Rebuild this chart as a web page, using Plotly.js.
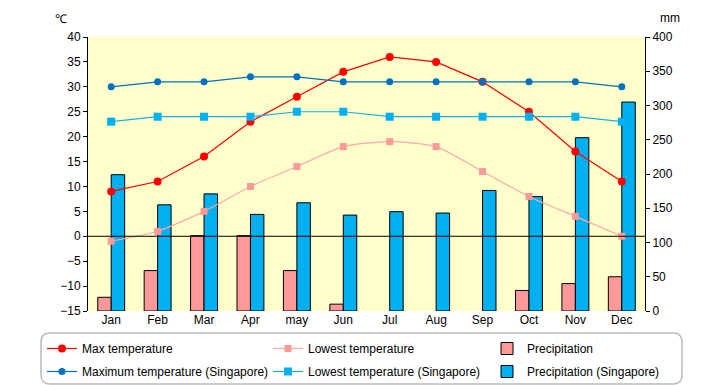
<!DOCTYPE html>
<html>
<head>
<meta charset="utf-8">
<script src="https://cdn.plot.ly/plotly-3.0.1.min.js"></script>
<style>html,body{margin:0;padding:0;background:#fff;}#chart{width:720px;height:385px;}</style>
</head>
<body>
<div id="chart"></div>
<script>
const months = ["Jan","Feb","Mar","Apr","may","Jun","Jul","Aug","Sep","Oct","Nov","Dec"];
const maxTemp = [9, 11, 16, 23, 28, 33, 36, 35, 31, 25, 17, 11];
const lowTemp = [-1, 1, 5, 10, 14, 18, 19, 18, 13, 8, 4, 0];
const precip = [20, 59, 110, 110, 59, 10, 0, 0, 0, 30, 40, 50];
const maxTempSG = [30, 31, 31, 32, 32, 31, 31, 31, 31, 31, 31, 30];
const lowTempSG = [23, 24, 24, 24, 25, 25, 24, 24, 24, 24, 24, 23];
const precipSG = [199, 155, 171, 141, 158, 140, 145, 143, 176, 167, 253, 305];

const FONT = "Liberation Sans, Arial, sans-serif";
const outline = vals => vals.map(v => v > 0 ? 1 : 0);

const traces = [
  {type:'bar', name:'Precipitation', x:months, y:precip, yaxis:'y', legend:'legend3', legendgroup:'p1',
   marker:{color:'#FF9999', line:{color:'#000', width:outline(precip)}}},
  {type:'bar', name:'Precipitation (Singapore)', x:months, y:precipSG, yaxis:'y', legend:'legend3', legendgroup:'p2',
   marker:{color:'#00B0F0', line:{color:'#000', width:outline(precipSG)}}},
  {type:'scatter', mode:'lines+markers', name:'Max temperature', x:months, y:maxTemp, yaxis:'y2', legend:'legend', legendgroup:'m1',
   line:{color:'#FF0000', width:1.2}, marker:{color:'#FF0000', size:8, symbol:'circle'}},
  {type:'scatter', mode:'lines+markers', name:'Maximum temperature (Singapore)', x:months, y:maxTempSG, yaxis:'y2', legend:'legend', legendgroup:'m2',
   line:{color:'#0070C0', width:1.2}, marker:{color:'#0070C0', size:7, symbol:'circle'}},
  {type:'scatter', mode:'lines+markers', name:'Lowest temperature', x:months, y:lowTemp, yaxis:'y2', legend:'legend2', legendgroup:'l1',
   line:{color:'#FFA8A8', width:1.2, shape:'spline', smoothing:0.6}, marker:{color:'#FF9999', size:7, symbol:'square'}},
  {type:'scatter', mode:'lines+markers', name:'Lowest temperature (Singapore)', x:months, y:lowTempSG, yaxis:'y2', legend:'legend2', legendgroup:'l2',
   line:{color:'#1AAFE8', width:1.2}, marker:{color:'#00B0F0', size:8, symbol:'square'}}
];

const L = 88, R = 645, T = 37, B = 311;
const pw = R - L, ph = B - T;
const px = v => (v - L) / pw;
const py = v => (B - v) / ph;

const legendCommon = {orientation:'v', xanchor:'left', yanchor:'top', tracegroupgap:4,
  font:{family:FONT, size:12, color:'#000'}, bgcolor:'rgba(0,0,0,0)', borderwidth:0, traceorder:'grouped'};

// rounded legend frame
const bx0 = px(41), bx1 = px(682), by0 = py(384), by1 = py(333);
const rx = 9 / pw, ry = 9 / ph;
const framePath = `M ${bx0+rx},${by1} L ${bx1-rx},${by1} Q ${bx1},${by1} ${bx1},${by1-ry} L ${bx1},${by0+ry} Q ${bx1},${by0} ${bx1-rx},${by0} L ${bx0+rx},${by0} Q ${bx0},${by0} ${bx0},${by0+ry} L ${bx0},${by1-ry} Q ${bx0},${by1} ${bx0+rx},${by1} Z`;

const layout = {
  width:720, height:385,
  margin:{l:L, r:720-R, t:T, b:385-B, pad:0, autoexpand:false},
  paper_bgcolor:'#FFFFFF', plot_bgcolor:'#FFFFCC',
  font:{family:FONT, size:12, color:'#000'},
  barmode:'group', bargap:0.42, bargroupgap:0,
  xaxis:{type:'category', range:[-0.5, 11.5], showgrid:false, zeroline:false, showline:false, ticks:'',
    tickfont:{family:FONT, size:12, color:'#000'}, fixedrange:true},
  yaxis:{side:'right', range:[0,400], dtick:50, tick0:0, showgrid:false, zeroline:false,
    showline:true, linecolor:'#000', linewidth:1, ticks:'outside', ticklen:4, tickcolor:'#000',
    tickfont:{family:FONT, size:12, color:'#000'}},
  yaxis2:{side:'left', overlaying:'y', range:[-15,40], dtick:5, tick0:0, showgrid:false, zeroline:false,
    showline:true, linecolor:'#000', linewidth:1, ticks:'outside', ticklen:4, tickcolor:'#000',
    tickfont:{family:FONT, size:12, color:'#000'}},
  legend:Object.assign({}, legendCommon, {x:px(42), y:py(334)}),
  legend2:Object.assign({}, legendCommon, {x:px(268), y:py(334)}),
  legend3:Object.assign({}, legendCommon, {x:px(487), y:py(334)}),
  shapes:[
    {type:'line', xref:'paper', x0:0, x1:1, yref:'y2', y0:0, y1:0, line:{color:'#000', width:1}, layer:'above'},
    {type:'path', xref:'paper', yref:'paper', path:framePath, line:{color:'#BBBBBB', width:1.5}, fillcolor:'rgba(0,0,0,0)', layer:'below'}
  ],
  annotations:[
    {text:'℃', xref:'paper', yref:'paper', x:px(61), y:py(19), xanchor:'center', yanchor:'middle', showarrow:false, font:{family:FONT, size:12}},
    {text:'mm', xref:'paper', yref:'paper', x:px(670), y:py(18), xanchor:'center', yanchor:'middle', showarrow:false, font:{family:FONT, size:12}}
  ]
};

Plotly.newPlot('chart', traces, layout, {displayModeBar:false, staticPlot:true});
</script>
</body>
</html>
